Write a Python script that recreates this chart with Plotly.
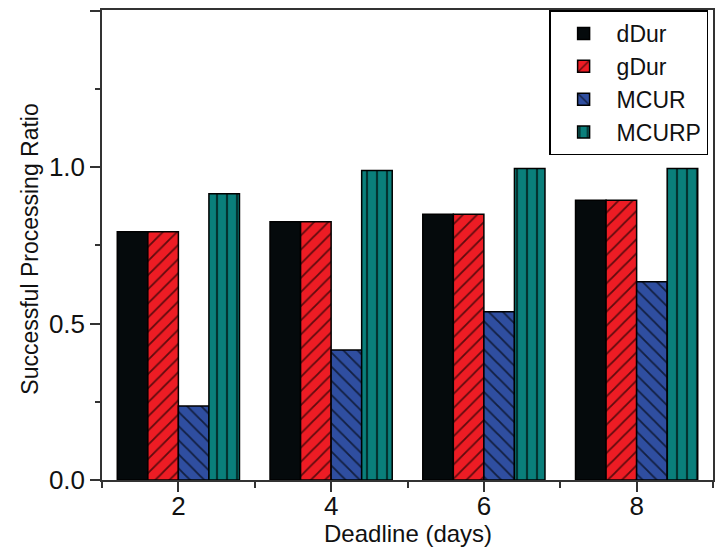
import plotly.graph_objects as go

deadlines = [2, 4, 6, 8]
dDur = [0.794, 0.826, 0.850, 0.895]
gDur = [0.794, 0.826, 0.850, 0.895]
MCUR = [0.237, 0.416, 0.538, 0.634]
MCURP = [0.915, 0.990, 0.996, 0.996]

series = [
    ("dDur", dDur, "#050a0c", ""),
    ("gDur", gDur, "#ed1c24", "/"),
    ("MCUR", MCUR, "#2f4ea0", "\\"),
    ("MCURP", MCURP, "#0a7f7b", "|"),
]

fig = go.Figure()
for name, vals, color, shape in series:
    fig.add_trace(go.Bar(
        x=deadlines, y=vals, name=name,
        marker=dict(
            color=color,
            line=dict(color="#000000", width=1.5),
            pattern=dict(shape=shape, fgcolor="#000000", fgopacity=0.6,
                         size=10, solidity=0.18 if shape != "|" else 0.22),
        ),
    ))

axis_color = "#333333"
font_family = "Liberation Sans, Arial, sans-serif"

fig.update_layout(
    width=723, height=549,
    margin=dict(l=102, r=8, t=8, b=69),
    paper_bgcolor="white", plot_bgcolor="white",
    barmode="group", bargap=0.2, bargroupgap=0,
    font=dict(family=font_family, color="#111111"),
    showlegend=True,
    legend=dict(
        x=0.992, xanchor="right", y=0.999, yanchor="top",
        bgcolor="white", bordercolor="#000000", borderwidth=1.5,
        font=dict(size=23, family=font_family, color="#111111"),
        itemwidth=56, tracegroupgap=0,
    ),
    xaxis=dict(
        range=[1, 9], tick0=0, dtick=2,
        showline=True, linecolor=axis_color, linewidth=1.5, mirror=True,
        ticks="outside", ticklen=10, tickwidth=1.5, tickcolor=axis_color,
        minor=dict(ticks="outside", ticklen=6, tickwidth=1.5, tickcolor=axis_color,
                   tick0=1, dtick=1),
        showgrid=False, zeroline=False, ticklabelstandoff=-8,
        tickfont=dict(size=26, family=font_family, color="#111111"),
    ),
    yaxis=dict(
        range=[0, 1.503], tick0=0, dtick=0.5, tickformat=".1f",
        showline=True, linecolor=axis_color, linewidth=1.5, mirror=True,
        ticks="outside", ticklen=10, tickwidth=1.5, tickcolor=axis_color,
        minor=dict(ticks="outside", ticklen=5, tickwidth=1.5, tickcolor=axis_color,
                   tick0=0, dtick=0.25),
        showgrid=False, zeroline=False,
        tickfont=dict(size=26, family=font_family, color="#111111"),
    ),
    yaxis2=dict(
        range=[0, 1.503], overlaying="y", side="right", tick0=0, dtick=0.25,
        showline=True, linecolor=axis_color, linewidth=1.5,
        ticks="inside", ticklen=8, tickwidth=1.5, tickcolor=axis_color,
        showticklabels=False, showgrid=False, zeroline=False,
    ),
    annotations=[
        dict(text="Deadline (days)", xref="paper", yref="paper", x=0.5, y=0,
             xanchor="center", yanchor="middle", yshift=-53, showarrow=False,
             font=dict(size=24, family=font_family, color="#111111")),
        dict(text="Successful Processing Ratio", xref="paper", yref="paper",
             x=0, y=0.49, xanchor="center", yanchor="middle", xshift=-72,
             textangle=-90, showarrow=False,
             font=dict(size=23, family=font_family, color="#111111")),
    ],
)

fig.write_html("out.html")
